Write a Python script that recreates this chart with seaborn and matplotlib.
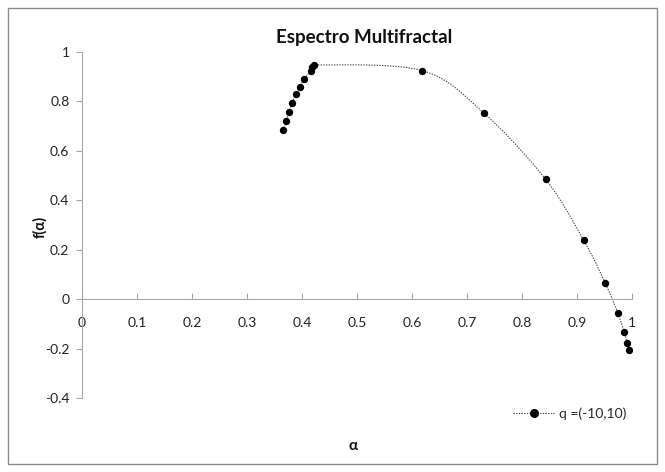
import numpy as np
import pandas as pd
import matplotlib
matplotlib.use("Agg")
import matplotlib.pyplot as plt
import seaborn as sns
from matplotlib.lines import Line2D
from matplotlib.patches import Rectangle

# values
alpha = [0.366, 0.371, 0.376, 0.382, 0.3885, 0.396, 0.404, 0.416, 0.419, 0.421,
         0.618, 0.731, 0.843, 0.912, 0.9515, 0.974, 0.986, 0.9915, 0.995]
f_alpha = [0.683, 0.720, 0.758, 0.794, 0.829, 0.860, 0.890, 0.925, 0.941, 0.948,
           0.925, 0.752, 0.485, 0.239, 0.0645, -0.055, -0.134, -0.179, -0.207]
series_name = "q =(-10,10)"
x_ticks = [0, 0.1, 0.2, 0.3, 0.4, 0.5, 0.6, 0.7, 0.8, 0.9, 1]
x_tick_labels = ["0", "0.1", "0.2", "0.3", "0.4", "0.5", "0.6", "0.7", "0.8", "0.9", "1"]
y_ticks = [-0.4, -0.2, 0, 0.2, 0.4, 0.6, 0.8, 1]
y_tick_labels = ["-0.4", "-0.2", "0", "0.2", "0.4", "0.6", "0.8", "1"]

df = pd.DataFrame({"alpha": alpha, "f": f_alpha})

sns.set_style("white")
plt.rcParams["font.family"] = ["Lato", "DejaVu Sans"]

W, H = 665, 472
fig = plt.figure(figsize=(W / 100, H / 100), dpi=100)
ax = fig.add_axes([82 / W, (H - 398) / H, 550 / W, 346 / H])


def smooth_path(xs, ys, n=24, sx=550.0, sy=248.0):
    # Excel-style smoothed line: Bezier through the points,
    # control arms clamped so short segments don't loop back
    p = np.column_stack([np.asarray(xs) * sx, np.asarray(ys) * sy])
    p = np.vstack([p[0], p, p[-1]])
    out = []
    for i in range(1, len(p) - 2):
        p0, p1, p2, p3 = p[i - 1], p[i], p[i + 1], p[i + 2]
        seg_len = np.linalg.norm(p2 - p1)
        a1 = (p2 - p0) / 6
        a2 = (p3 - p1) / 6
        for a in (a1, a2):
            ln = np.linalg.norm(a)
            if ln > 0.45 * seg_len and ln > 0:
                a *= 0.45 * seg_len / ln
        c1 = p1 + a1
        c2 = p2 - a2
        t = np.linspace(0, 1, n)[:, None]
        seg = ((1 - t) ** 3) * p1 + 3 * ((1 - t) ** 2) * t * c1 + 3 * (1 - t) * t ** 2 * c2 + t ** 3 * p2
        out.append(seg)
    out = np.vstack(out)
    return out[:, 0] / sx, out[:, 1] / sy


lx, ly = smooth_path(df["alpha"].values, df["f"].values)
ax.plot(lx, ly, color="#444444", lw=0.8, ls=(0, (1.2, 1.2)), zorder=2)
sns.scatterplot(data=df, x="alpha", y="f", color="black", s=28, edgecolor="black",
                linewidth=0, ax=ax, zorder=3)

ax.set_xlim(0, 1)
ax.set_ylim(-0.4, 1)
ax.set_xticks(x_ticks)
ax.set_xticklabels(x_tick_labels)
ax.set_yticks(y_ticks)
ax.set_yticklabels(y_tick_labels)
ax.set_xlabel("")
ax.set_ylabel("")

spine_col = "#a6a6a6"
for s in ["top", "right"]:
    ax.spines[s].set_visible(False)
ax.spines["bottom"].set_position(("data", 0))
ax.spines["bottom"].set_color(spine_col)
ax.spines["left"].set_color(spine_col)
ax.spines["bottom"].set_linewidth(0.8)
ax.spines["left"].set_linewidth(0.8)
ax.tick_params(axis="x", direction="in", length=4, color=spine_col, labelsize=10,
               labelcolor="#222222", pad=13, bottom=True)
ax.tick_params(axis="y", direction="out", length=4, color=spine_col, labelsize=10,
               labelcolor="#222222", pad=5, left=True)
ax.patch.set_alpha(0)

fig.text(364 / W, 1 - 38 / H, "Espectro Multifractal", ha="center", va="center",
         fontsize=13.5, fontweight="bold", color="#111111")
fig.text(40 / W, 1 - 227 / H, "f(α)", ha="center", va="center", rotation=90,
         fontsize=10.5, fontweight="bold", color="#111111")
fig.text(353 / W, 1 - 446 / H, "α", ha="center", va="center",
         fontsize=11, fontweight="bold", color="#111111")

handle = Line2D([], [], color="#444444", lw=0.8, ls=(0, (1.2, 1.2)), marker="o",
                markersize=5.5, markerfacecolor="black", markeredgecolor="black")
ax.legend([handle], [series_name], loc="center left",
          bbox_to_anchor=(503 / W, 1 - 414 / H), bbox_transform=fig.transFigure,
          frameon=False, fontsize=10, handlelength=3.0, handletextpad=0.3,
          borderpad=0.2)

fig.patches.append(Rectangle((8 / W, 1 - 464 / H), 649 / W, 456 / H, transform=fig.transFigure,
                             fill=False, edgecolor="#8c8c8c", lw=1.0))

fig.savefig("out.png", dpi=100)
